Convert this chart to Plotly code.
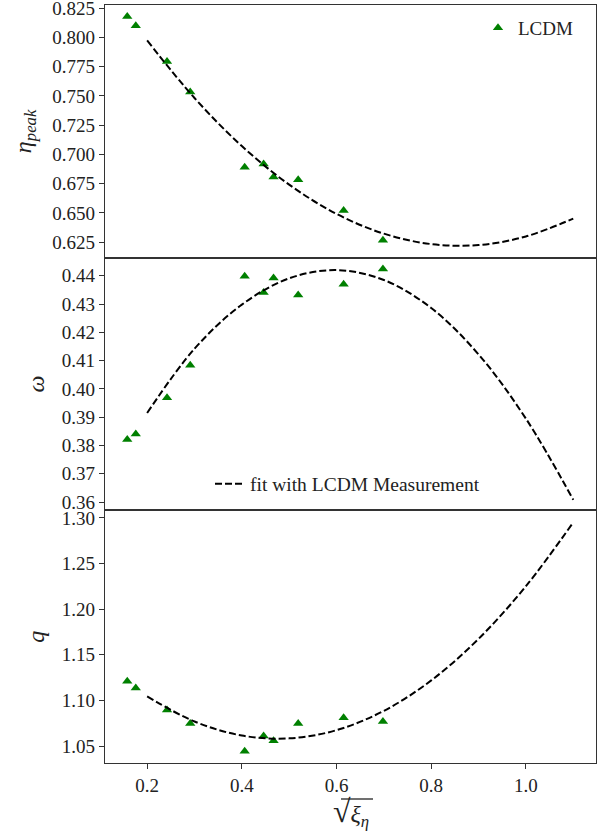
import plotly.graph_objects as go

# ---- data ----
x_sqrt_xi = [0.158, 0.176, 0.242, 0.291, 0.406, 0.446, 0.467, 0.519, 0.615, 0.698]
eta_peak = [0.8178, 0.8099, 0.7794, 0.7532, 0.6891, 0.6919, 0.6806, 0.6783, 0.6520, 0.6267]
omega = [0.3821, 0.3841, 0.3969, 0.4084, 0.4398, 0.4341, 0.4392, 0.4332, 0.4370, 0.4424]
q_vals = [1.1211, 1.1135, 1.0894, 1.0748, 1.0442, 1.0609, 1.0559, 1.0748, 1.0811, 1.0770]

fit_x = [0.2, 0.3, 0.4, 0.5, 0.6, 0.7, 0.8, 0.9, 1.0, 1.1]
fit_eta = [0.7973, 0.7482, 0.7071, 0.6742, 0.6492, 0.6323, 0.6234, 0.6226, 0.6299, 0.6452]
fit_omega = [0.3915, 0.4142, 0.4298, 0.4391, 0.4420, 0.4385, 0.4286, 0.4122, 0.3895, 0.3608]
fit_q = [1.1044, 1.0769, 1.0615, 1.0584, 1.0674, 1.0886, 1.1219, 1.1675, 1.2252, 1.2951]

eta_ticks = [0.625, 0.650, 0.675, 0.700, 0.725, 0.750, 0.775, 0.800, 0.825]
omega_ticks = [0.36, 0.37, 0.38, 0.39, 0.40, 0.41, 0.42, 0.43, 0.44]
q_ticks = [1.05, 1.10, 1.15, 1.20, 1.25, 1.30]
x_ticks = [0.2, 0.4, 0.6, 0.8, 1.0]

FONT = "Liberation Serif"
GREEN = "#008000"
AX = "#333333"
TXT = "#222222"

fig = go.Figure()

panels = [
    (eta_peak, fit_eta, "x", "y"),
    (omega, fit_omega, "x2", "y2"),
    (q_vals, fit_q, "x3", "y3"),
]
for i, (yv, fv, xa, ya) in enumerate(panels):
    fig.add_trace(go.Scatter(
        x=x_sqrt_xi, y=yv, xaxis=xa, yaxis=ya, mode="markers",
        marker=dict(symbol="triangle-up", size=9, color=GREEN),
        name="LCDM", showlegend=(i == 0), legend="legend",
    ))
    fig.add_trace(go.Scatter(
        x=fit_x, y=fv, xaxis=xa, yaxis=ya, mode="lines",
        line=dict(color="black", width=2, dash="7px,3px", shape="spline"),
        name="fit with LCDM Measurement", showlegend=(i == 0), legend="legend2",
    ))

line_common = dict(
    showline=True, linecolor=AX, linewidth=1.3, mirror=True,
    showgrid=False, zeroline=False, automargin=False, ticklabeloverflow="allow",
    tickfont=dict(family=FONT, size=19, color=TXT),
)
tick_common = dict(ticks="outside", ticklen=5, tickwidth=1.2, tickcolor=AX)

xr = [0.111, 1.148]
fig.update_layout(
    width=610, height=835,
    margin=dict(l=105, r=14, t=5, b=72, autoexpand=False),
    paper_bgcolor="white", plot_bgcolor="white",
    font=dict(family=FONT, size=19, color=TXT),
    xaxis=dict(range=xr, domain=[0, 1], anchor="y", showticklabels=False, ticks="", **line_common),
    xaxis2=dict(range=xr, domain=[0, 1], anchor="y2", matches="x", showticklabels=False, ticks="",
                **line_common),
    xaxis3=dict(range=xr, domain=[0, 1], anchor="y3", matches="x", tickvals=x_ticks,
                ticktext=[f"{v:.1f}" for v in x_ticks], **line_common, **tick_common),
    yaxis=dict(range=[0.6118, 0.8276], domain=[2 / 3, 1], anchor="x", tickvals=eta_ticks,
               ticktext=[f"{v:.3f}" for v in eta_ticks],
               title=dict(text="<i>η</i><sub><i>peak</i></sub>", font=dict(family=FONT, size=24), standoff=13),
               **line_common, **tick_common),
    yaxis2=dict(range=[0.3571, 0.4464], domain=[1 / 3, 2 / 3], anchor="x2", tickvals=omega_ticks,
                ticktext=[f"{v:.2f}" for v in omega_ticks],
                title=dict(text="<i>ω</i>", font=dict(family=FONT, size=24), standoff=10),
                **line_common, **tick_common),
    yaxis3=dict(range=[1.0314, 1.3083], domain=[0, 1 / 3], anchor="x3", tickvals=q_ticks,
                ticktext=[f"{v:.2f}" for v in q_ticks],
                title=dict(text="<i>q</i>", font=dict(family=FONT, size=24), standoff=10),
                **line_common, **tick_common),
    legend=dict(x=(478 - 105) / 491, y=1 - (28 - 5) / 758, xanchor="left", yanchor="middle",
                bgcolor="rgba(255,255,255,0)", font=dict(family=FONT, size=19, color=TXT)),
    legend2=dict(x=(210 - 105) / 491, y=1 - (484 - 5) / 758, xanchor="left", yanchor="middle",
                 bgcolor="rgba(255,255,255,0)", font=dict(family=FONT, size=19.5, color=TXT)),
)

# x-axis title: square root of xi_eta, with a vinculum drawn over the radicand
fig.add_annotation(
    xref="paper", yref="paper", x=(351 - 105) / 491, y=(763 - 812) / 758,
    xanchor="center", yanchor="middle", showarrow=False,
    text="<span style='font-size:32px'>√</span><i>ξ</i><sub><i>η</i></sub>",
    font=dict(family=FONT, size=24, color=TXT),
)
fig.add_shape(
    type="line", xref="paper", yref="paper",
    x0=(341 - 105) / 491, x1=(373 - 105) / 491,
    y0=(763 - 799) / 758, y1=(763 - 799) / 758,
    line=dict(color=TXT, width=1.3),
)

fig.write_html("out.html", config={"displayModeBar": False},
               post_script="document.body.style.margin='0';")
